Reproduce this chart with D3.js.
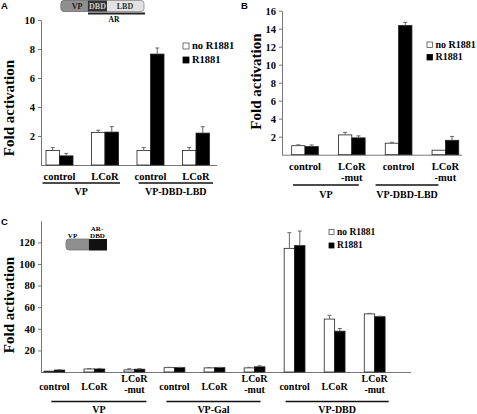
<!DOCTYPE html>
<html><head><meta charset="utf-8">
<script src="https://cdn.jsdelivr.net/npm/d3@7"></script>
<style>body{margin:0;background:#fff}</style>
</head><body>
<svg id="c" width="477" height="414"></svg>
<script>
// ---------- Panel A data ----------
const aCategories = ["control", "LCoR", "control", "LCoR"];
const aGroups = ["VP", "VP-DBD-LBD"];
const aNoR1881 = [1.0, 2.25, 1.0, 1.0];
const aNoR1881Err = [0.2, 0.15, 0.2, 0.2];
const aR1881 = [0.63, 2.27, 7.65, 2.2];
const aR1881Err = [0.17, 0.38, 0.42, 0.44];
const aTicks = [2, 4, 6, 8, 10];

// ---------- Panel B data ----------
const bCategories = ["control", "LCoR\n-mut", "control", "LCoR\n-mut"];
const bGroups = ["VP", "VP-DBD-LBD"];
const bNoR1881 = [1.0, 2.2, 1.28, 0.5];
const bNoR1881Err = [0.1, 0.28, 0.1, 0];
const bR1881 = [0.9, 1.87, 14.35, 1.6];
const bR1881Err = [0.18, 0.22, 0.35, 0.43];
const bTicks = [2, 4, 6, 8, 10, 12, 14, 16];

// ---------- Panel C data ----------
const cCategories = ["control", "LCoR", "LCoR\n-mut", "control", "LCoR", "LCoR\n-mut", "control", "LCoR", "LCoR\n-mut"];
const cGroups = ["VP", "VP-Gal", "VP-DBD"];
const cNoR1881 = [0.8, 2.8, 2.0, 4.0, 3.8, 3.8, 114.5, 49, 53.8];
const cNoR1881Err = [0, 0.3, 1.0, 0.3, 0.3, 0.5, 14.5, 3.5, 0.5];
const cR1881 = [1.8, 2.8, 2.6, 4.0, 4.0, 4.8, 117, 37.8, 51.2];
const cR1881Err = [0.3, 0.5, 0.5, 0.3, 0.3, 1.0, 13.5, 2.5, 0.5];
const cTicks = [20, 40, 60, 80, 100, 120];

const legendLabels = ["no R1881", "R1881"];
const SERIF = "'Liberation Serif','Times New Roman',serif";
const SANS = "'Liberation Sans',Arial,sans-serif";
const svg = d3.select("#c");

function panel(cfg) {
  const g = svg.append("g");
  const y = d3.scaleLinear().domain([0, cfg.yMax]).range([cfg.y0, cfg.y1]);
  const x = d3.scaleBand().domain(d3.range(cfg.categories.length)).range(cfg.xRange);
  const bw = x.bandwidth() * cfg.barFrac;
  const cx = i => x(i) + x.bandwidth() / 2;

  // y axis
  const ax = d3.axisLeft(y).tickValues(cfg.ticks).tickSize(3).tickSizeOuter(0).tickPadding(3).tickFormat(d3.format("d"));
  const ga = g.append("g").attr("transform", `translate(${cfg.axisX},0)`).call(ax);
  ga.select(".domain").attr("stroke", "#777");
  ga.selectAll(".tick line").attr("stroke", "#777");
  ga.selectAll("text").attr("font-family", SERIF).attr("font-weight", "bold")
    .attr("font-size", cfg.tickFont).attr("fill", "#000");

  // baseline
  g.append("line").attr("x1", cfg.axisX).attr("x2", cfg.axisEnd)
    .attr("y1", y(0) + 0.5).attr("y2", y(0) + 0.5).attr("stroke", "#777");

  // bars
  const series = [
    {vals: cfg.no, errs: cfg.noErr, fill: "#fff", off: -1},
    {vals: cfg.r, errs: cfg.rErr, fill: "#000", off: 0}
  ];
  series.forEach(s => {
    g.selectAll(null).data(s.vals).enter().append("rect")
      .attr("x", (d, i) => cx(i) + s.off * bw)
      .attr("y", d => y(d))
      .attr("width", bw)
      .attr("height", d => y(0) - y(d))
      .attr("fill", s.fill)
      .attr("stroke", "#222").attr("stroke-width", 0.8);
    const eg = g.selectAll(null).data(s.vals.map((v, i) => ({v, e: s.errs[i], i})).filter(d => d.e > 0))
      .enter().append("g").attr("stroke", "#666").attr("stroke-width", 1);
    eg.append("line")
      .attr("x1", d => cx(d.i) + s.off * bw + bw / 2).attr("x2", d => cx(d.i) + s.off * bw + bw / 2)
      .attr("y1", d => y(d.v)).attr("y2", d => y(d.v + d.e));
    eg.append("line")
      .attr("x1", d => cx(d.i) + s.off * bw + bw / 2 - 2).attr("x2", d => cx(d.i) + s.off * bw + bw / 2 + 2)
      .attr("y1", d => y(d.v + d.e)).attr("y2", d => y(d.v + d.e));
  });

  // category labels
  cfg.categories.forEach((c, i) => {
    const lines = c.split("\n");
    const base = lines.length > 1 ? cfg.catY2 : cfg.catY;
    const t = g.append("text").attr("text-anchor", "middle")
      .attr("font-family", SERIF).attr("font-weight", "bold").attr("font-size", cfg.catFont);
    lines.forEach((l, k) => t.append("tspan").attr("x", cx(i)).attr("y", base + k * cfg.lineH).text(l));
  });

  // group lines and labels
  cfg.groups.forEach((gname, gi) => {
    const [a, b] = cfg.groupSpan[gi];
    const x1 = cx(a) + cfg.groupPad[gi][0], x2 = cx(b) + cfg.groupPad[gi][1];
    g.append("line").attr("x1", x1).attr("x2", x2).attr("y1", cfg.groupLineY).attr("y2", cfg.groupLineY)
      .attr("stroke", "#111").attr("stroke-width", 1.3);
    g.append("text").attr("x", (x1 + x2) / 2).attr("y", cfg.groupY).attr("text-anchor", "middle")
      .attr("font-family", SERIF).attr("font-weight", "bold").attr("font-size", cfg.groupFont).text(gname);
  });

  // y title
  g.append("text").attr("transform", `translate(${cfg.titleX},${cfg.titleY}) rotate(-90)`)
    .attr("text-anchor", "middle").attr("font-family", SERIF).attr("font-weight", "bold")
    .attr("font-size", cfg.titleFont).text("Fold activation");

  // legend
  legendLabels.forEach((l, k) => {
    const ly = cfg.legY + k * cfg.legStep;
    g.append("rect").attr("x", cfg.legX).attr("y", ly - cfg.legBox)
      .attr("width", cfg.legBox).attr("height", cfg.legBox)
      .attr("fill", k === 0 ? "#fff" : "#000").attr("stroke", k === 0 ? "#555" : "#000").attr("stroke-width", 0.8);
    g.append("text").attr("x", cfg.legX + cfg.legBox + 3).attr("y", ly)
      .attr("font-family", SERIF).attr("font-weight", "bold").attr("font-size", cfg.legFont).text(l);
  });

  // panel letter
  g.append("text").attr("x", cfg.letterX).attr("y", cfg.letterY)
    .attr("font-family", SANS).attr("font-weight", "bold").attr("font-size", 9.5).text(cfg.letter);
}

panel({
  letter: "A", letterX: 1, letterY: 9,
  categories: aCategories, groups: aGroups, no: aNoR1881, noErr: aNoR1881Err, r: aR1881, rErr: aR1881Err,
  ticks: aTicks, yMax: 10, y0: 165, y1: 20, xRange: [36.75, 218.75], barFrac: 0.297,
  axisX: 41, axisEnd: 217, tickFont: 10.5, catFont: 10.5, catY: 180, catY2: 180, lineH: 11,
  groupSpan: [[0, 1], [2, 3]], groupPad: [[-17, 15], [-12, 17]], groupLineY: 183, groupY: 195, groupFont: 10,
  titleX: 14, titleY: 108, titleFont: 15,
  legX: 183, legY: 49, legStep: 14, legBox: 6, legFont: 10.5
});

panel({
  letter: "B", letterX: 241, letterY: 9,
  categories: bCategories, groups: bGroups, no: bNoR1881, noErr: bNoR1881Err, r: bR1881, rErr: bR1881Err,
  ticks: bTicks, yMax: 16, y0: 154.7, y1: 10.7, xRange: [281.6, 468.8], barFrac: 0.285,
  axisX: 282, axisEnd: 462, tickFont: 10.5, catFont: 10.5, catY: 170, catY2: 170, lineH: 11,
  groupSpan: [[0, 1], [2, 3]], groupPad: [[-12, 7], [-23, -7]], groupLineY: 185, groupY: 198, groupFont: 10,
  titleX: 260.5, titleY: 81.5, titleFont: 15,
  legX: 427, legY: 47.5, legStep: 12.5, legBox: 5.5, legFont: 10
});

panel({
  letter: "C", letterX: 1, letterY: 225,
  categories: cCategories, groups: cGroups, no: cNoR1881, noErr: cNoR1881Err, r: cR1881, rErr: cR1881Err,
  ticks: cTicks, yMax: 140, y0: 372, y1: 220.8, xRange: [34.3, 394.7], barFrac: 0.26,
  axisX: 41, axisEnd: 411, tickFont: 10.5, catFont: 10, catY: 390, catY2: 382, lineH: 11,
  groupSpan: [[0, 2], [3, 5], [6, 8]], groupPad: [[-3, 12], [-8, 6], [-9, 14]], groupLineY: 401.5, groupY: 413, groupFont: 10,
  titleX: 13.5, titleY: 305, titleFont: 15,
  legX: 329, legY: 234.5, legStep: 13.5, legBox: 5, legFont: 9.5
});

// ---------- schematics ----------
// Panel A construct: VP | DBD | LBD, AR bracket
const sa = svg.append("g");
sa.append("rect").attr("x", 61).attr("y", 0.5).attr("width", 83).attr("height", 11).attr("rx", 3)
  .attr("fill", "#e2e2e2").attr("stroke", "#888").attr("stroke-width", 0.8);
sa.append("path").attr("d", "M64,0.5 H88 V11.5 H64 Q61,11.5 61,8.5 V3.5 Q61,0.5 64,0.5 Z")
  .attr("fill", "#8f8f8f").attr("stroke", "#777").attr("stroke-width", 0.8);
sa.append("rect").attr("x", 88).attr("y", 0.5).attr("width", 19).attr("height", 11).attr("fill", "#333");
sa.append("line").attr("x1", 88).attr("x2", 145).attr("y1", 13.5).attr("y2", 13.5).attr("stroke", "#222").attr("stroke-width", 2);
[["VP", 77, "#222"], ["DBD", 97.5, "#ccc"], ["LBD", 125, "#333"]].forEach(([t, xx, col]) =>
  sa.append("text").attr("x", xx).attr("y", 9).attr("text-anchor", "middle").attr("font-family", SERIF)
    .attr("font-weight", "bold").attr("font-size", 8).attr("fill", col).text(t));
sa.append("text").attr("x", 114).attr("y", 22).attr("text-anchor", "middle").attr("font-family", SERIF)
  .attr("font-weight", "bold").attr("font-size", 7.5).text("AR");

// Panel C construct: VP | AR-DBD
const sc = svg.append("g");
sc.append("path").attr("d", "M69,239 H89 V250 H69 Q66,250 66,247 V242 Q66,239 69,239 Z")
  .attr("fill", "#8f8f8f").attr("stroke", "#777").attr("stroke-width", 0.8);
sc.append("rect").attr("x", 89).attr("y", 239).attr("width", 18).attr("height", 11.5).attr("fill", "#111");
sc.append("text").attr("x", 72.5).attr("y", 237.5).attr("text-anchor", "middle").attr("font-family", SERIF)
  .attr("font-weight", "bold").attr("font-size", 7).text("VP");
sc.append("text").attr("x", 97).attr("y", 230.5).attr("text-anchor", "middle").attr("font-family", SERIF)
  .attr("font-weight", "bold").attr("font-size", 7).text("AR-");
sc.append("text").attr("x", 97.5).attr("y", 237.5).attr("text-anchor", "middle").attr("font-family", SERIF)
  .attr("font-weight", "bold").attr("font-size", 7).text("DBD");
</script>
</body></html>
